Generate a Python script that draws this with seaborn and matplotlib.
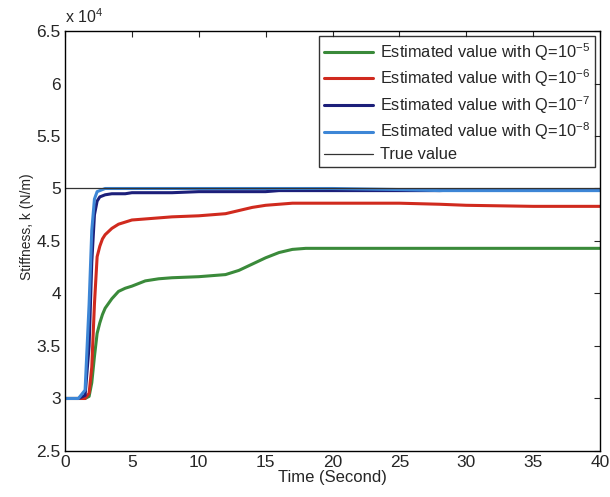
import matplotlib
matplotlib.use("Agg")
import matplotlib.pyplot as plt
import seaborn as sns
import pandas as pd

# time samples (s) and stiffness estimates (x 10^4 N/m)
time = [0, 1.0, 1.5, 1.8, 2.0, 2.2, 2.4, 2.6, 2.8, 3.0, 3.5, 4.0, 4.5, 5, 6, 7, 8,
        10, 12, 13, 14, 15, 16, 17, 18, 20, 25, 28, 30, 35, 40]
q5 = [3.0, 3.0, 3.0, 3.02, 3.15, 3.40, 3.62, 3.72, 3.80, 3.86, 3.95, 4.02, 4.05, 4.07,
      4.12, 4.14, 4.15, 4.16, 4.18, 4.22, 4.28, 4.34, 4.39, 4.42, 4.43, 4.43, 4.43,
      4.43, 4.43, 4.43, 4.43]
q6 = [3.0, 3.0, 3.0, 3.05, 3.3, 3.9, 4.35, 4.45, 4.52, 4.56, 4.62, 4.66, 4.68, 4.70,
      4.71, 4.72, 4.73, 4.74, 4.76, 4.79, 4.82, 4.84, 4.85, 4.86, 4.86, 4.86, 4.86,
      4.85, 4.84, 4.83, 4.83]
q7 = [3.0, 3.0, 3.03, 3.5, 4.3, 4.75, 4.88, 4.92, 4.93, 4.94, 4.95, 4.95, 4.95, 4.96,
      4.96, 4.96, 4.96, 4.97, 4.97, 4.97, 4.97, 4.97, 4.98, 4.98, 4.98, 4.98, 4.98,
      4.98, 4.99, 4.99, 4.99]
q8 = [3.0, 3.0, 3.08, 3.9, 4.6, 4.9, 4.97, 4.98, 4.99, 5.0, 5.0, 5.0, 5.0, 5.0, 5.0,
      5.0, 5.0, 5.0, 5.0, 5.0, 5.0, 5.0, 5.0, 5.0, 5.0, 5.0, 4.99, 4.98, 4.98, 4.98, 4.98]
true_k = 5.0

labels = ["Estimated value with Q=$10^{-5}$", "Estimated value with Q=$10^{-6}$",
          "Estimated value with Q=$10^{-7}$", "Estimated value with Q=$10^{-8}$"]
colors = ["#3a8a3a", "#d02a1e", "#1c1f7a", "#3d86d6"]

sns.set_style("white")
plt.rcParams['font.family'] = ['Liberation Sans', 'DejaVu Sans']
plt.rcParams['mathtext.fontset'] = 'custom'
plt.rcParams['mathtext.rm'] = 'Liberation Sans'
plt.rcParams['mathtext.it'] = 'Liberation Sans'

fig = plt.figure(figsize=(6.1, 4.97), dpi=100)
ax = fig.add_axes([0.1066, 0.0926, 0.877, 0.845])

for vals, lab, col in zip([q5, q6, q7, q8], labels, colors):
    df = pd.DataFrame({"t": time, "k": vals})
    sns.lineplot(data=df, x="t", y="k", color=col, lw=2.2, label=lab, ax=ax)
ax.axhline(true_k, color="#333333", lw=0.9, label="True value")

ax.set_xlim(0, 40)
ax.set_ylim(2.5, 6.5)
ax.set_xticks(range(0, 41, 5))
ax.set_yticks([2.5, 3, 3.5, 4, 4.5, 5, 5.5, 6, 6.5])
ax.set_yticklabels(["2.5", "3", "3.5", "4", "4.5", "5", "5.5", "6", "6.5"])
ax.tick_params(direction="in", top=True, right=True, labelsize=12.5, length=4, pad=3)
for s in ax.spines.values():
    s.set_color("black")
    s.set_linewidth(1.0)
ax.set_xlabel("Time (Second)", fontsize=12, labelpad=0)
ax.set_ylabel("Stiffness, k (N/m)", fontsize=10)
ax.yaxis.set_label_coords(-0.058, 0.533)
ax.text(0.0, 1.012, "x $10^{4}$", transform=ax.transAxes, fontsize=11.5, ha="left", va="bottom")

leg = ax.legend(loc="upper right", fontsize=11.8, frameon=True, fancybox=False,
                edgecolor="black", handlelength=3.0, handletextpad=0.45, borderpad=0.3,
                labelspacing=0.3, borderaxespad=0.3)
leg.get_frame().set_linewidth(1.0)

fig.savefig("out.png", dpi=100)
